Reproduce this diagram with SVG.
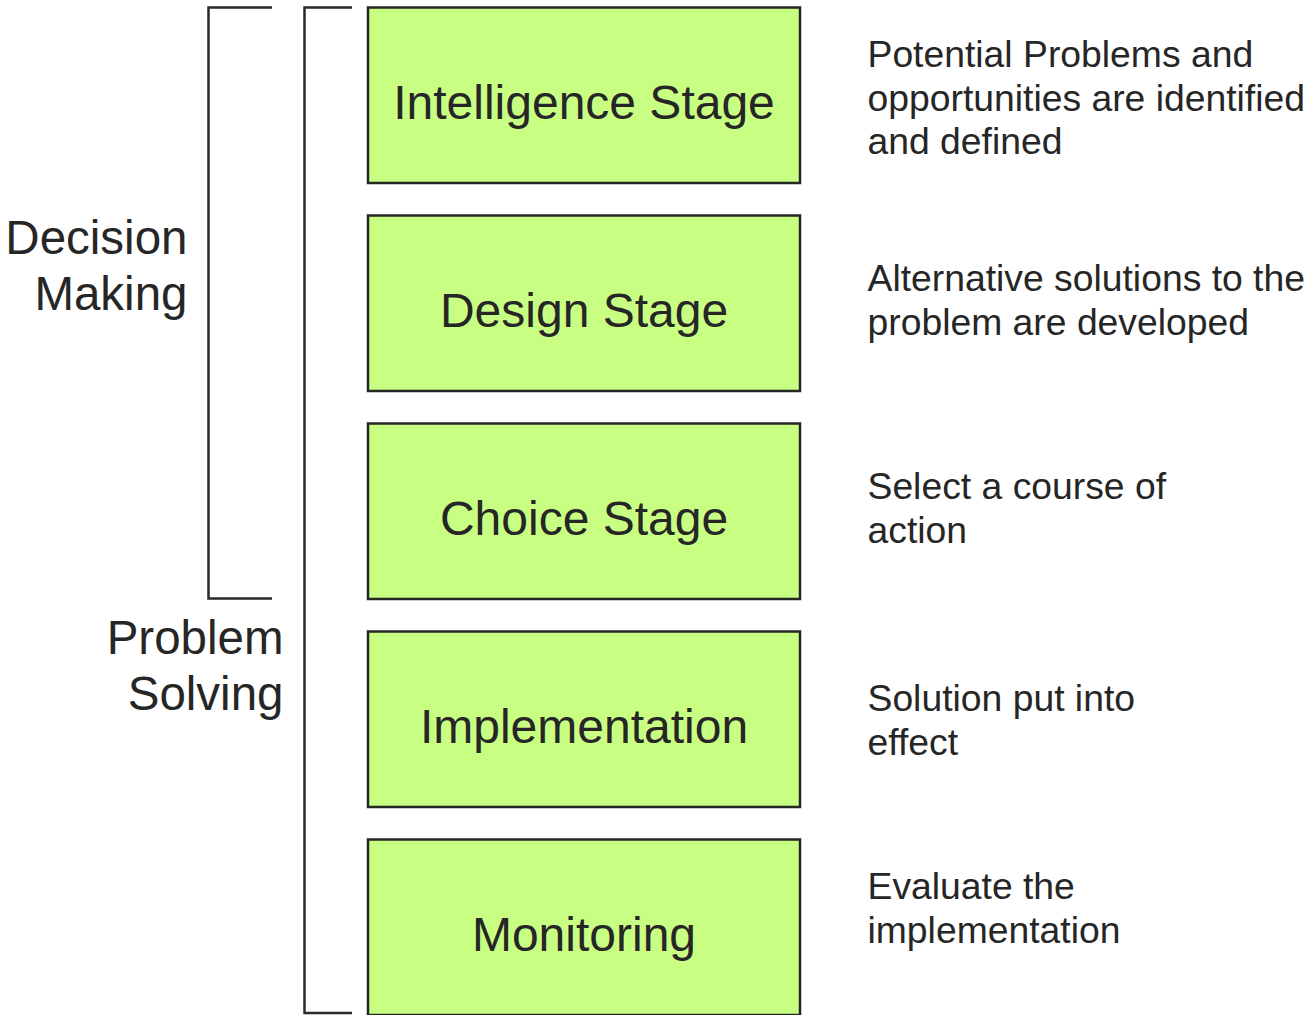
<svg xmlns="http://www.w3.org/2000/svg" width="1307" height="1015" viewBox="0 0 1307 1015">
  <style>
    .stage { fill: #c8ff82; stroke: #262626; stroke-width: 2.5; }
    .stage-label { font-family: "Liberation Sans", Arial, sans-serif; font-size: 48px; fill: #262626; text-anchor: middle; }
    .desc { font-family: "Liberation Sans", Arial, sans-serif; font-size: 37.3px; fill: #262626; }
    .side { font-family: "Liberation Sans", Arial, sans-serif; font-size: 47.5px; fill: #262626; text-anchor: end; }
    .bracket { fill: none; stroke: #2a2a2a; stroke-width: 2.5; }
  </style>
  <rect width="1307" height="1015" fill="#ffffff"/>

  <!-- brackets grouping the stages -->
  <g id="connectors">
    <path class="bracket" d="M272,7.5 H208.5 V598.5 H272"/>
    <path class="bracket" d="M352,7.5 H304.5 V1013 H352"/>
  </g>

  <!-- side labels -->
  <g id="decision-making">
    <text class="side" x="187.5" y="254">Decision</text>
    <text class="side" x="187.5" y="310">Making</text>
  </g>
  <g id="problem-solving">
    <text class="side" x="283.5" y="654">Problem</text>
    <text class="side" x="283.5" y="710">Solving</text>
  </g>

  <!-- stage boxes -->
  <g id="intelligence">
    <rect class="stage" x="368" y="7.5" width="432" height="175.5"/>
    <text class="stage-label" x="584" y="119">Intelligence Stage</text>
  </g>
  <g id="design">
    <rect class="stage" x="368" y="215.5" width="432" height="175.5"/>
    <text class="stage-label" x="584" y="327">Design Stage</text>
  </g>
  <g id="choice">
    <rect class="stage" x="368" y="423.5" width="432" height="175.5"/>
    <text class="stage-label" x="584" y="535">Choice Stage</text>
  </g>
  <g id="implementation">
    <rect class="stage" x="368" y="631.5" width="432" height="175.5"/>
    <text class="stage-label" x="584" y="743">Implementation</text>
  </g>
  <g id="monitoring">
    <rect class="stage" x="368" y="839.5" width="432" height="175.5"/>
    <text class="stage-label" x="584" y="951">Monitoring</text>
  </g>

  <!-- stage descriptions -->
  <g id="desc-intelligence">
    <text class="desc" x="867.5" y="67">Potential Problems and</text>
    <text class="desc" x="867.5" y="111">opportunities are identified</text>
    <text class="desc" x="867.5" y="154">and defined</text>
  </g>
  <g id="desc-design">
    <text class="desc" x="867.5" y="291">Alternative solutions to the</text>
    <text class="desc" x="867.5" y="335">problem are developed</text>
  </g>
  <g id="desc-choice">
    <text class="desc" x="867.5" y="499">Select a course of</text>
    <text class="desc" x="867.5" y="543">action</text>
  </g>
  <g id="desc-implementation">
    <text class="desc" x="867.5" y="711">Solution put into</text>
    <text class="desc" x="867.5" y="755">effect</text>
  </g>
  <g id="desc-monitoring">
    <text class="desc" x="867.5" y="899">Evaluate the</text>
    <text class="desc" x="867.5" y="943">implementation</text>
  </g>
</svg>
